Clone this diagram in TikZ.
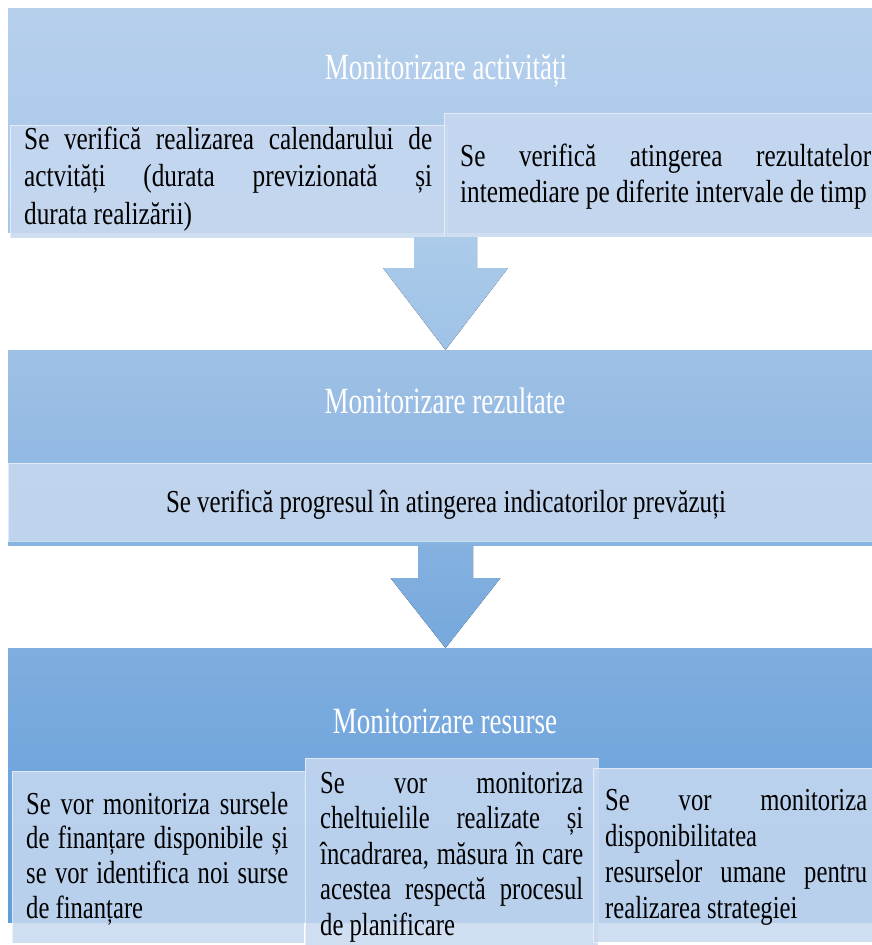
\documentclass[tikz,border=0pt]{standalone}
\usepackage{fontspec}
\setmainfont{Liberation Serif}
\newfontfamily\bodyfont[FakeStretch=0.79]{Liberation Serif}
\newfontfamily\midfont[FakeStretch=0.78]{Liberation Serif}
\newfontfamily\botfont[FakeStretch=0.77]{Liberation Serif}
\newfontfamily\titlefont[FakeStretch=0.73]{Liberation Serif}
\usetikzlibrary{calc}
\definecolor{bandAtop}{RGB}{182,208,236}
\definecolor{bandAbot}{RGB}{168,199,233}
\definecolor{bandBtop}{RGB}{159,192,229}
\definecolor{bandBbot}{RGB}{136,180,224}
\definecolor{bandCtop}{RGB}{128,173,223}
\definecolor{bandCbot}{RGB}{95,158,218}
\definecolor{subc}{RGB}{200,217,240}
\definecolor{arrAtop}{RGB}{172,203,234}
\definecolor{arrAbot}{RGB}{158,194,230}
\definecolor{arrBtop}{RGB}{132,177,223}
\definecolor{arrBbot}{RGB}{118,168,220}
\newcommand{\jline}[1]{\makebox[\linewidth][s]{#1}\\}
\newcommand{\txtbox}[5]{\parbox[t]{#4}{#1\fontsize{#2}{#3}\selectfont #5}}
\tikzset{
  x=1pt, y=-1pt,
  band/.style={draw=none, minimum width=864pt, inner sep=0pt, outer sep=0pt, anchor=north west},
  subbox/.style={fill=subc, fill opacity=0.85, draw=white, draw opacity=0.55, line width=0.8pt},
  ttl/.style={anchor=base, inner sep=0pt, text=white, font=\titlefont\fontsize{37}{40}\selectfont},
  txt/.style={anchor=base west, inner sep=0pt, text=black},
}
\begin{document}
\begin{tikzpicture}
\fill[white] (0,0) rectangle (872,945);
\useasboundingbox (0,0) rectangle (872,945);

% band 1
\node[band, minimum height=224pt, top color=bandAtop, bottom color=bandAbot] (band1) at (8,8) {};
\node[ttl] (t1) at (446,79) {Monitorizare activități};
\path[subbox] (10,125) rectangle (447,238);
\path[subbox] (444,113) rectangle (872,237);
\node[txt] (x1a) at (24,149) {\txtbox{\bodyfont}{32}{37.5}{408pt}{%
\jline{Se verifică realizarea calendarului de}
\jline{actvități (durata previzionată și}
durata realizării)}};
\node[txt] (x1b) at (460,166) {\txtbox{\bodyfont}{32}{36.5}{411pt}{%
\jline{Se verifică atingerea rezultatelor}
intemediare pe diferite intervale de timp}};

% band 2
\node[band, minimum height=195pt, top color=bandBtop, bottom color=bandBbot] (band2) at (8,350) {};
\node[ttl] (t2) at (445,413) {Monitorizare rezultate};
\path[subbox] (8,463) rectangle (872,541);
\node[anchor=base, inner sep=0pt, font=\midfont\fontsize{32}{36}\selectfont] (x2) at (446,512) {Se verifică progresul în atingerea indicatorilor prevăzuți};

% arrow 1
\coordinate (a1) at (445.5,237);
\fill[top color=arrAtop, bottom color=arrAbot]
  ($(a1)+(-31.5,0)$) -- ($(a1)+(31.5,0)$) -- ($(a1)+(31.5,31)$) -- ($(a1)+(62.5,31)$)
  -- (a1 |- band2.north) -- ($(a1)+(-62.5,31)$) -- ($(a1)+(-31.5,31)$) -- cycle;

% band 3
\node[band, minimum height=274pt, top color=bandCtop, bottom color=bandCbot] (band3) at (8,648) {};
\node[ttl] (t3) at (445,733) {Monitorizare resurse};

% arrow 2
\coordinate (a2) at (445.5,545);
\fill[top color=arrBtop, bottom color=arrBbot]
  ($(a2)+(-27.5,0)$) -- ($(a2)+(27.5,0)$) -- ($(a2)+(27.5,33)$) -- ($(a2)+(55,33)$)
  -- (a2 |- band3.north) -- ($(a2)+(-55,33)$) -- ($(a2)+(-27.5,33)$) -- cycle;

\path[subbox] (12,771) rectangle (304,943);
\path[subbox] (305,758) rectangle (598,945);
\path[subbox] (593,768) rectangle (872,942);

\node[txt] (x3a) at (26,814) {\txtbox{\botfont}{32}{34.7}{262pt}{%
\jline{Se vor monitoriza sursele}
\jline{de finanțare disponibile și}
\jline{se vor identifica noi surse}
de finanțare}};
\node[txt] (x3b) at (320,793) {\txtbox{\botfont}{32}{35.5}{263pt}{%
\jline{Se vor monitoriza}
\jline{cheltuielile realizate și}
\jline{încadrarea, măsura în care}
\jline{acestea respectă procesul}
de planificare}};
\node[txt] (x3c) at (605,810) {\txtbox{\botfont}{32}{36}{262pt}{%
\jline{Se vor monitoriza}
disponibilitatea\\
\jline{resurselor umane pentru}
realizarea strategiei}};
\end{tikzpicture}
\end{document}
